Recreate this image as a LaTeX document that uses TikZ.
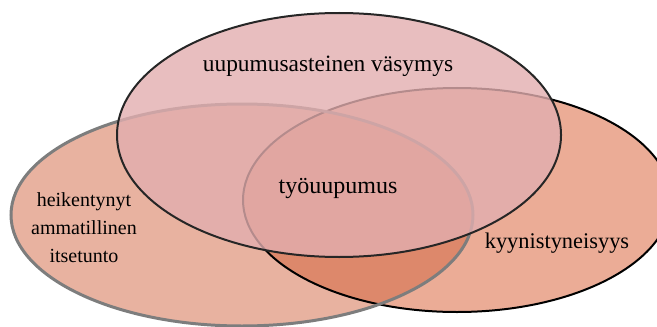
\documentclass[tikz,border=0pt]{standalone}
\usepackage{tikz}
\usepackage{fontspec}
\setmainfont{Liberation Serif}
\definecolor{kyyfill}{RGB}{235,172,150}
\definecolor{itsefill}{RGB}{209,101,65}
\definecolor{vasyfill}{RGB}{226,174,175}
\definecolor{itseline}{RGB}{125,125,125}
\tikzset{
    venntext/.style={text=black, align=center},
}

\begin{document}
\begin{tikzpicture}[x=0.5pt,y=-0.5pt]
    \useasboundingbox (0,0) rectangle (657,326);

    % fills first, then borders
    \fill[kyyfill] (457,200) ellipse [x radius=214, y radius=112];
    \fill[itsefill, fill opacity=0.5] (242,215) ellipse [x radius=231, y radius=111];
    \draw[black, line width=1pt] (457,200) ellipse [x radius=214, y radius=112];
    \draw[itseline, line width=1.5pt] (242,215) ellipse [x radius=231, y radius=111];

    \fill[vasyfill, fill opacity=0.8] (339,135) ellipse [x radius=222, y radius=122];
    \draw[black!85, line width=1pt] (339,135) ellipse [x radius=222, y radius=122];

    \node[venntext, font=\fontsize{11.7}{14}\selectfont] (vasy) at (328,66) {uupumusasteinen v\"asymys};
    \node[venntext, font=\fontsize{12}{14}\selectfont] (tyo) at (338,189) {ty\"ouupumus};
    \node[venntext, font=\fontsize{11.2}{14}\selectfont] (kyy) at (557,243) {kyynistyneisyys};
    \node[venntext, font=\fontsize{10}{14}\selectfont, text width=60pt] (itse) at (84,228) {heikentynyt\\ammatillinen\\itsetunto};

\end{tikzpicture}
\end{document}
